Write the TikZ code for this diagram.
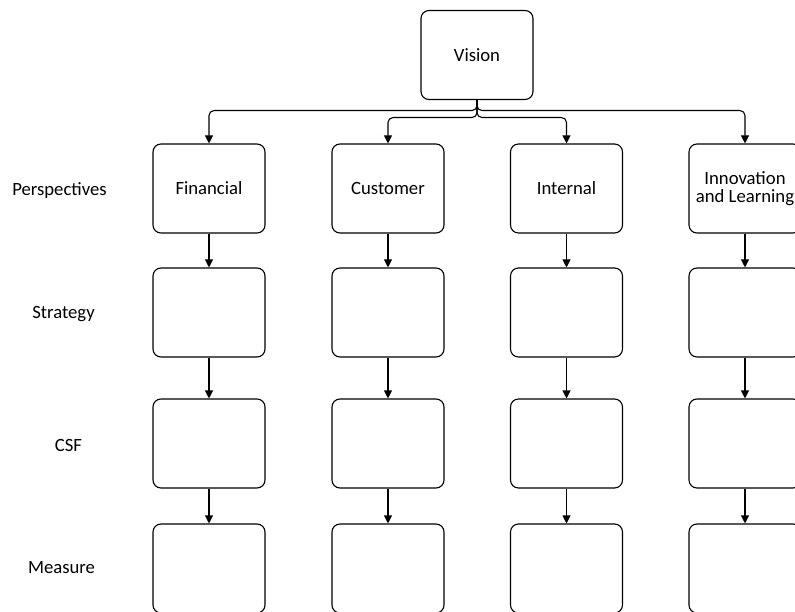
\documentclass[tikz,border=0pt]{standalone}
\usepackage{fontspec}
\setmainfont{Carlito}
\usetikzlibrary{arrows.meta}
\begin{document}
\begin{tikzpicture}[x=1pt,y=-1pt,
  box/.style={draw=black, line width=1.1pt, rounded corners=8pt,
    minimum width=112pt, minimum height=89pt, inner sep=0pt,
    align=center, font=\fontsize{18.7}{18.5}\selectfont},
  rowlabel/.style={font=\fontsize{18.7}{22}\selectfont, inner sep=0pt},
  link/.style={draw=black, line width=1.1pt, rounded corners=5pt,
    -{Triangle[length=8pt,width=8pt]}}]
\useasboundingbox (0,0) rectangle (795,612);

% top of the hierarchy
\node[box] (vision) at (477,55) {Vision};

% perspective boxes (first row)
\node[box] (c1r1) at (209,188.5) {Financial};
\node[box] (c2r1) at (388,188.5) {Customer};
\node[box] (c3r1) at (566.5,188.5) {Internal};
\node[box] (c4r1) at (745,188.5) {Innovation\\and Learning};

% empty boxes below each perspective
\foreach \c/\x in {1/209,2/388,3/566.5,4/745}{
  \node[box] (c\c r2) at (\x,312.5) {};
  \node[box] (c\c r3) at (\x,443.5) {};
  \node[box] (c\c r4) at (\x,568.5) {};
}

% row labels
\node[rowlabel] (lp) at (59.5,190.5) {Perspectives};
\node[rowlabel] (ls) at (63.5,314.5) {Strategy};
\node[rowlabel] (lc) at (68.5,445) {CSF};
\node[rowlabel] (lm) at (61.5,568) {Measure};

% vision to perspectives
\draw[link] (vision.south) -- ++(0,10.5) -| (c1r1.north);
\draw[link] (vision.south) -- ++(0,10.5) -| (c4r1.north);
\draw[link] (vision.south) -- ++(0,17.5) -| (c2r1.north);
\draw[link] (vision.south) -- ++(0,17.5) -| (c3r1.north);

% down each column
\foreach \c in {1,2,3,4}{
  \draw[link] (c\c r1.south) -- (c\c r2.north);
  \draw[link] (c\c r2.south) -- (c\c r3.north);
  \draw[link] (c\c r3.south) -- (c\c r4.north);
}
\end{tikzpicture}
\end{document}
